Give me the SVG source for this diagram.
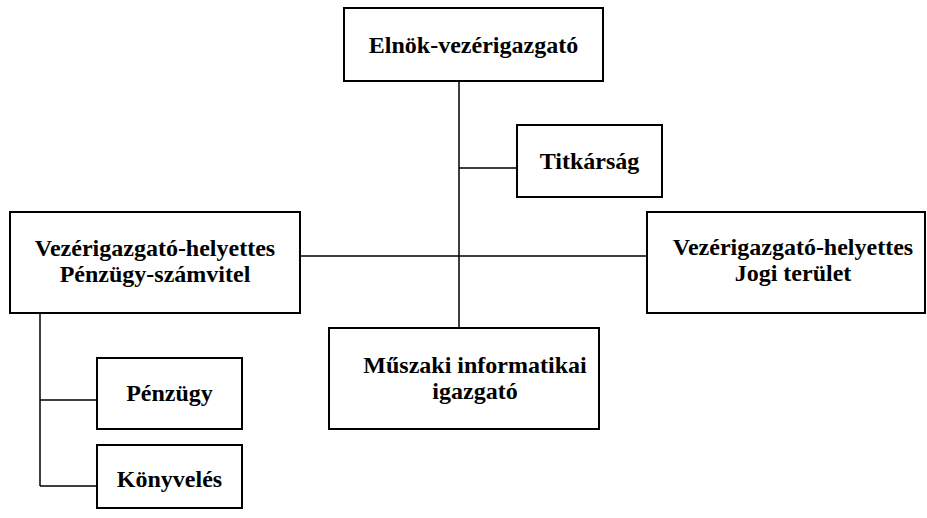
<svg xmlns="http://www.w3.org/2000/svg" width="927" height="518" viewBox="0 0 927 518">
<style>
.box{fill:#fff;stroke:#000;stroke-width:2}
.t{font-family:"Liberation Serif","Times New Roman",serif;font-weight:bold;font-size:24px;fill:#000;text-anchor:middle}
.c{fill:none;stroke:#000;stroke-width:1.5}
</style>
<rect width="927" height="518" fill="#fff"/>
<g id="connectors">
<path class="c" d="M459 81V328M459 168H517M300 256H647M40 313V486M40 400H97M40 486H97"/>
</g>
<g id="n-elnok"><rect class="box" x="344" y="8" width="259" height="73"/><text class="t" x="473.5" y="53">Elnök-vezérigazgató</text></g>
<g id="n-titkarsag"><rect class="box" x="517" y="125" width="145" height="72"/><text class="t" x="589.5" y="169">Titkárság</text></g>
<g id="n-vh-penzugy"><rect class="box" x="10" y="212" width="290" height="101"/><text class="t" x="155" y="256">Vezérigazgató-helyettes</text><text class="t" x="155" y="282">Pénzügy-számvitel</text></g>
<g id="n-vh-jogi"><rect class="box" x="647" y="212" width="278" height="101"/><text class="t" x="793" y="255">Vezérigazgató-helyettes</text><text class="t" x="793" y="281">Jogi terület</text></g>
<g id="n-muszaki"><rect class="box" x="329" y="328" width="270" height="101"/><text class="t" x="475" y="373">Műszaki informatikai</text><text class="t" x="475" y="399">igazgató</text></g>
<g id="n-penzugy"><rect class="box" x="97" y="358" width="145" height="71"/><text class="t" x="169.5" y="401">Pénzügy</text></g>
<g id="n-konyveles"><rect class="box" x="97" y="445" width="145" height="63"/><text class="t" x="169.5" y="487">Könyvelés</text></g>
</svg>
